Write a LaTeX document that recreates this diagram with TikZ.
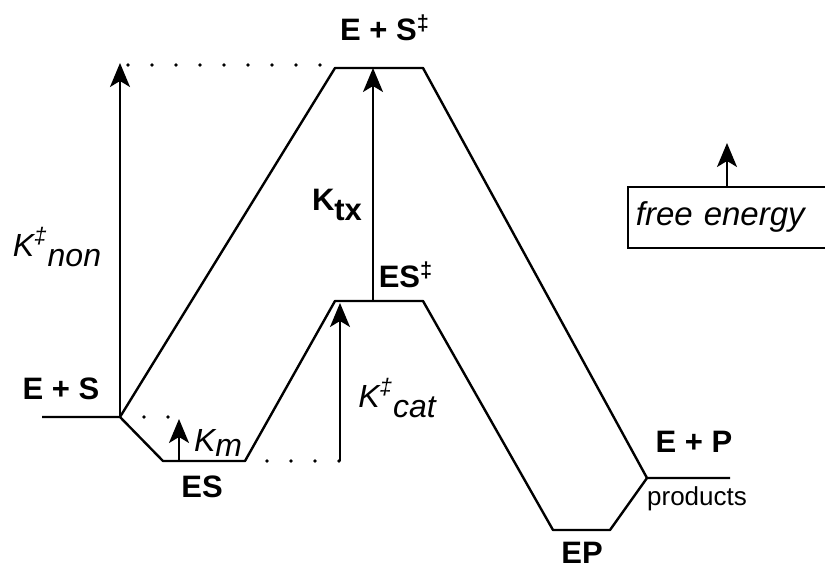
\documentclass[tikz,border=0pt]{standalone}
\usepackage{fontspec}
\setmainfont{Liberation Sans}
\usetikzlibrary{arrows.meta, positioning}

\begin{document}
\begin{tikzpicture}[x=0.5pt, y=-0.5pt,
  profile/.style={line width=1.2pt, line join=round},
  rise/.style={line width=0.9pt, -{Stealth[length=12pt, width=10pt, inset=3pt]}},
  dots/.style={line width=1.8pt, line cap=round, dash pattern=on 0pt off 12pt},
  species/.style={font=\fontsize{15.5}{18}\selectfont\bfseries, inner sep=0pt},
  rate/.style={font=\fontsize{16}{19}\selectfont\itshape, inner sep=0pt}]

  \useasboundingbox (0,0) rectangle (825,569);

  % --- Energy levels ---
  \coordinate (ESl)  at (42,417);
  \coordinate (ESr)  at (120,417);
  \coordinate (TSnl) at (335,68);
  \coordinate (TSnr) at (423,68);
  \coordinate (ESbl) at (163,461);
  \coordinate (ESbr) at (245,461);
  \coordinate (TScl) at (335,301);
  \coordinate (TScr) at (423,301);
  \coordinate (EPbl) at (553,530);
  \coordinate (EPbr) at (610,530);
  \coordinate (EPl)  at (647,478);
  \coordinate (EPr)  at (730,478);

  % --- Uncatalysed path ---
  \draw[profile] (ESl) -- (ESr) -- (TSnl) -- (TSnr) -- (EPl) -- (EPr);

  % --- Catalysed path ---
  \draw[profile] (ESr) -- (ESbl) -- (ESbr) -- (TScl) -- (TScr)
    -- (EPbl) -- (EPbr) -- (EPl);

  % --- Barrier arrows ---
  \coordinate (nonTop) at (120,63);
  \coordinate (txBot)  at (373,301);
  \coordinate (txTop)  at (373,68);
  \coordinate (catBot) at (340,461);
  \coordinate (catTop) at (340,303);
  \coordinate (kmBot)  at (179,461);
  \coordinate (kmTop)  at (179,419);
  \draw[rise] (ESr) -- (nonTop);
  \draw[rise] (txBot) -- (txTop);
  \draw[rise] (catBot) -- (catTop);
  \draw[rise] (kmBot) -- (kmTop);

  % --- Dotted guides ---
  \coordinate (d1a) at (128,65);
  \coordinate (d1b) at (322,65);
  \coordinate (d2a) at (267,461);
  \coordinate (d2b) at (339,461);
  \coordinate (d3a) at (144,417);
  \coordinate (d3b) at (170,417);
  \draw[dots] (d1a) -- (d1b);
  \draw[dots] (d2a) -- (d2b);
  \draw[dots] (d3a) -- (d3b);

  % --- Species labels ---
  \node[species] (lES)  at (61,389)  {E + S};
  \node[species] (lTSn) at (385,28)  {E + S\textsuperscript{‡}};
  \node[species] (lTSc) at (406,275) {ES\textsuperscript{‡}};
  \node[species] (lESb) at (202,487) {ES};
  \node[species] (lEP)  at (694,442) {E + P};
  \node[species] (lEPb) at (582,553) {EP};
  \node[font=\fontsize{13}{15}\selectfont, inner sep=0pt] (lprod)
    at (697,499) {products};

  % --- Rate labels ---
  \node[species] (lKtx) at (337,205) {K\raisebox{-0.32em}{tx}};
  \node[rate] (lKnon) at (57,247) {K\textsuperscript{‡}\raisebox{-0.3em}{non}};
  \node[rate] (lKcat) at (397,398) {K\textsuperscript{‡}\raisebox{-0.3em}{cat}};
  \node[rate] (lKm)   at (218,443) {K\raisebox{-0.15em}{m}};

  % --- Legend ---
  \node[draw, line width=0.9pt, anchor=north west, inner xsep=4pt,
    minimum height=30.5pt, text width=100pt, align=left,
    font=\fontsize{16.5}{19}\selectfont\itshape] (fe) at (627,186) {free energy};
  \coordinate (feTip) at (727,143);
  \draw[rise] (feTip |- fe.north) -- (feTip);

\end{tikzpicture}
\end{document}
